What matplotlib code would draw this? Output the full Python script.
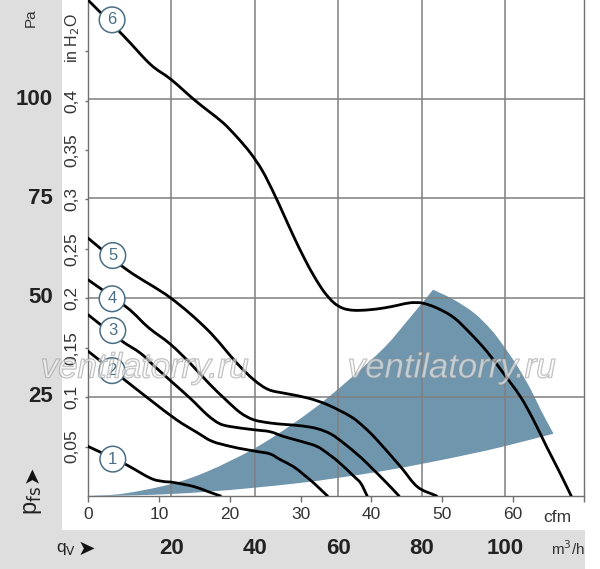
import numpy as np
import matplotlib
matplotlib.use('Agg')
import matplotlib.pyplot as plt
import matplotlib.transforms as mtransforms
import matplotlib.patheffects as pe
from matplotlib.patches import Rectangle, PathPatch
from matplotlib.path import Path

# curves: flow in cfm, static pressure in Pa
c1_q = [0, 3, 5.5, 8.8, 10.5, 12.1, 14.9, 16.8, 18.7]
c1_p = [12.5, 10, 7.8, 4.5, 3.7, 3.4, 2.4, 1.2, 0]

c2_q = [0, 5, 8.8, 12.5, 15.4, 17.5, 20.1, 22, 23.9, 25.7, 27.2, 29, 30.5, 31.9, 33.8]
c2_p = [36.5, 29.5, 24.2, 19.2, 16, 13.8, 12.5, 11.8, 11.2, 10.6, 9.1, 7.4, 5.3, 3.2, 0]

c3_q = [0, 4.5, 7.4, 9.5, 12, 14.5, 16.8, 18.5, 20.1, 23.4, 25.7, 27.6, 30, 32.3, 34, 35.6, 37.5, 38.5, 39.4]
c3_p = [45.7, 39.4, 36, 32.5, 28.5, 24.5, 20.5, 18.3, 17.5, 16.7, 16.2, 15, 13.8, 12.5, 10.5, 8.2, 5, 3.2, 0]

c4_q = [0, 5.5, 8.5, 11.6, 14.4, 17, 19.3, 21.5, 23.4, 25.7, 28, 30, 32.3, 34.3, 36.1, 38, 39.4, 42.2, 43.9]
c4_p = [54.5, 47.5, 42.5, 38.3, 33.5, 28.5, 24.5, 21, 19.2, 18.4, 18, 17.7, 17, 15.6, 13.3, 10.5, 8.2, 3.2, 0]

c5_q = [0, 5.5, 11.6, 16.8, 21, 23.4, 25.5, 28, 31, 33.8, 37.1, 39, 40.8, 44.1, 46.5, 49.2]
c5_p = [65, 57, 50, 42, 33.5, 29.3, 26.8, 25.8, 24.7, 23, 20, 17.3, 14.1, 7.4, 2.3, 0]

c6_q = [0, 5, 8.8, 11.7, 14.9, 17, 19.1, 21, 22.9, 24.6, 26.2, 27.6, 29, 30.5, 31.9, 33.3,
        34.7, 36, 37.5, 39.5, 41.8, 43.8, 45.5, 47.2, 49.2, 51.6, 53.9, 56.3, 58.6, 61,
        62.8, 64.7, 66.5, 68.2]
c6_p = [125, 116, 108.8, 105, 100, 97, 94, 90.5, 86.5, 82, 76.4, 71, 65.5, 60, 55.4, 51.5,
        48.7, 47.3, 46.8, 46.9, 47.4, 48.1, 48.7, 48.6, 47.4, 45, 41.1, 36.4, 31, 25.1,
        19.4, 12.5, 6.2, 0]

curves_q = [c1_q, c2_q, c3_q, c4_q, c5_q, c6_q]
curves_p = [c1_p, c2_p, c3_p, c4_p, c5_p, c6_p]
curve_names = ['1', '2', '3', '4', '5', '6']
label_q = [3.5, 3.4, 3.5, 3.4, 3.5, 3.4]
label_p = [9.3, 31.6, 41.7, 49.7, 60.6, 120]

# operating range (shaded area): upper edge, outer arc, lower edge
upper_q = [0, 5, 11.7, 17, 23.5, 29, 34, 41.3, 45, 48.7]
upper_p = [0, 0.6, 3, 6.3, 12, 18.3, 25, 36.5, 44, 52.0]
arc_q = [48.7, 51.6, 54.5, 56.9, 58.7, 60.6, 62.5, 63.9, 65.7]
arc_p = [52.0, 49.5, 46.1, 41.9, 37.7, 32.7, 26.8, 21.7, 15.7]
lower_q = [65.7, 58.7, 54, 48, 41.3, 35, 30, 23, 17, 11.7, 6, 0]
lower_p = [15.7, 12.5, 10.6, 8.4, 6.2, 4.5, 3.3, 2.0, 1.1, 0.5, 0.15, 0]

cfm_ticks = [0, 10, 20, 30, 40, 50, 60, 70]
cfm_labels = ['0', '10', '20', '30', '40', '50', '60', '']
m3h_grid = [20, 40, 60, 80, 100]
pa_grid = [25, 50, 75, 100]
inh2o_ticks = [0.05, 0.1, 0.15, 0.2, 0.25, 0.3, 0.35, 0.4, 0.45]
inh2o_labels = ['0,05', '0,1', '0,15', '0,2', '0,25', '0,3', '0,35', '0,4', '']

CFM_TO_M3H = 1.699
INH2O_TO_PA = 249.09


def smooth_verts(q, p):
    # catmull-rom through the read points, as cubic bezier segments
    pts = np.column_stack([q, p]).astype(float)
    ext = np.vstack([2 * pts[0] - pts[1], pts, 2 * pts[-1] - pts[-2]])
    verts = [pts[0]]
    for i in range(1, len(ext) - 2):
        p0, p1, p2, p3 = ext[i - 1], ext[i], ext[i + 1], ext[i + 2]
        verts += [p1 + (p2 - p0) / 6, p2 - (p3 - p1) / 6, p2]
    return verts


def smooth_path(q, p):
    v = smooth_verts(q, p)
    return Path(v, [Path.MOVETO] + [Path.CURVE4] * (len(v) - 1))


plt.rcParams['font.family'] = ['Liberation Sans Narrow', 'Liberation Sans', 'DejaVu Sans']
plt.rcParams['mathtext.fontset'] = 'custom'
plt.rcParams['mathtext.rm'] = 'Liberation Sans Narrow'
plt.rcParams['mathtext.it'] = 'Liberation Sans Narrow'

W, H = 600, 569
fig = plt.figure(figsize=(W / 100, H / 100), dpi=100)
fig.patch.set_facecolor('white')

gray = '#dedede'
fig.patches.append(Rectangle((0, 0), 62 / W, 1, transform=fig.transFigure, fc=gray, ec='none', zorder=0))
fig.patches.append(Rectangle((0, 0), 585 / W, 39 / H, transform=fig.transFigure, fc=gray, ec='none', zorder=0))

ax = fig.add_axes([88 / W, (H - 496) / H, (584 - 88) / W, 496 / H])
ax.set_xlim(0, 70)
ax.set_ylim(0, 125)
ax.set_facecolor('none')

# shaded range
v_up = smooth_verts(upper_q, upper_p)
v_arc = smooth_verts(arc_q, arc_p)
v_low = smooth_verts(lower_q, lower_p)
verts = v_up + v_arc[1:] + v_low[1:] + [v_up[0]]
codes = ([Path.MOVETO] + [Path.CURVE4] * (len(v_up) - 1) + [Path.LINETO] * 0
         + [Path.CURVE4] * (len(v_arc) - 1) + [Path.CURVE4] * (len(v_low) - 1) + [Path.CLOSEPOLY])
ax.add_patch(PathPatch(Path(verts, codes), fc='#7096ad', ec='none', zorder=1))

# grid: vertical lines in m3/h, horizontal in Pa
for m in m3h_grid:
    ax.axvline(m / CFM_TO_M3H, color='#7f7f7f', lw=1.1, zorder=2)
for p in pa_grid:
    ax.axhline(p, color='#7f7f7f', lw=1.1, zorder=2)

for q, p in zip(curves_q, curves_p):
    ax.add_patch(PathPatch(smooth_path(q, p), fc='none', ec='black', lw=2.0,
                           capstyle='round', zorder=4))

for name, q, p in zip(curve_names, label_q, label_p):
    ax.text(q, p, name, ha='center', va='center', fontsize=12, color='#4a6e86',
            family=['Liberation Sans', 'DejaVu Sans'], zorder=6,
            bbox=dict(boxstyle='circle,pad=0.32', fc='white', ec='#4a6e86', lw=1.1))

ax.spines['top'].set_visible(False)
for s in ['left', 'bottom', 'right']:
    ax.spines[s].set_color('#6f6f6f')
    ax.spines[s].set_linewidth(1.0)

ax.set_xticks(cfm_ticks)
ax.set_xticklabels(cfm_labels, fontsize=12.5, color='#333333')
ax.tick_params(axis='x', direction='out', length=4, width=1, color='#6f6f6f', pad=4)

ax.set_yticks([v * INH2O_TO_PA for v in inh2o_ticks])
ax.set_yticklabels(inh2o_labels, fontsize=12.5, color='#333333', rotation=90, va='center')
ax.tick_params(axis='y', direction='out', length=2, width=1, color='#6f6f6f', pad=4)

ax.text(66.3, -5.5, 'cfm', ha='center', va='center', fontsize=12.5, color='#333333')

# left column: Pa scale
tr_left = mtransforms.blended_transform_factory(fig.transFigure, ax.transData)
for p in pa_grid:
    fig.text(53 / W, p, str(p), transform=tr_left, ha='right', va='center',
             fontsize=16, fontweight='bold', color='#222222')
fig.text(31 / W, 1 - 18 / H, 'Pa', rotation=90, ha='center', va='center', fontsize=11, color='#333333')
fig.text(73 / W, 1 - 38 / H, r'in H$_2$O', rotation=90, ha='center', va='center', fontsize=11.5, color='#333333')
fig.text(33 / W, 1 - 500 / H, r'p$_{\rm fs}$', rotation=90, ha='center', va='center', fontsize=17, color='#222222')
fig.text(32 / W, 1 - 474 / H, '\u27a4', rotation=90, ha='center', va='center', fontsize=15,
         color='#111111', family='DejaVu Sans')

# bottom band: m3/h scale
tr_bot = mtransforms.blended_transform_factory(ax.transData, fig.transFigure)
for m in m3h_grid:
    fig.text(m / CFM_TO_M3H, 20 / H, str(m), transform=tr_bot, ha='center', va='center',
             fontsize=16, fontweight='bold', color='#222222')
fig.text(568 / W, 20 / H, r'm$^3$/h', ha='center', va='center', fontsize=11, color='#333333')
fig.text(66 / W, 20 / H, r'q$_{\rm V}$', ha='center', va='center', fontsize=12.5, color='#222222')
fig.text(86 / W, 20 / H, '\u27a4', ha='center', va='center', fontsize=15, color='#111111',
         family='DejaVu Sans')

# watermark
for xc in [145, 452]:
    fig.text(xc / W, 1 - 368 / H, 'ventilatorry.ru', ha='center', va='center', fontsize=25,
             style='italic', family=['Liberation Sans', 'DejaVu Sans'], color=(1, 1, 1, 0.35),
             path_effects=[pe.withStroke(linewidth=1.0, foreground=(0.55, 0.55, 0.55, 0.6))],
             zorder=10)

fig.savefig('out.png', dpi=100)
